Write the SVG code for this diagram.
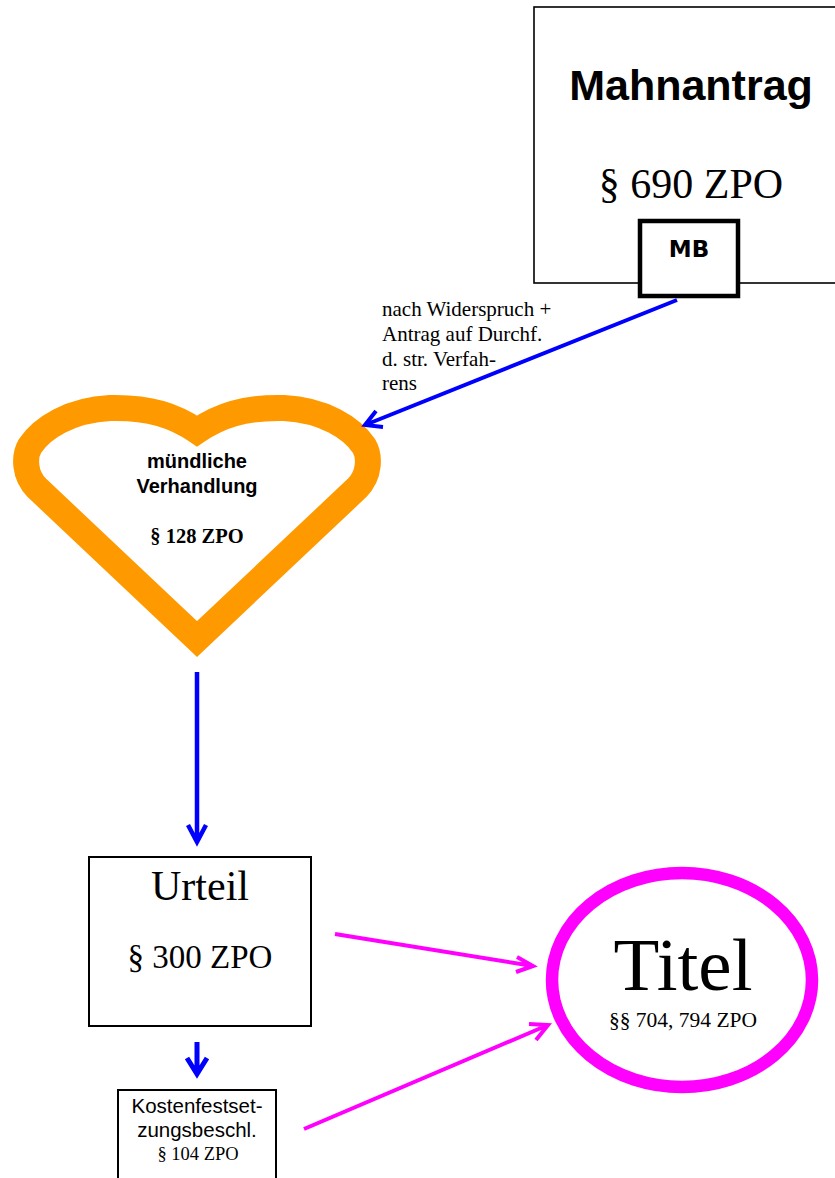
<svg xmlns="http://www.w3.org/2000/svg" width="835" height="1178" viewBox="0 0 835 1178">
<style>
.box{fill:#fff;stroke:#000}
.sans{font-family:"Liberation Sans",Arial,sans-serif}
.serif{font-family:"Liberation Serif","Times New Roman",serif}
.c{text-anchor:middle}
.blue{fill:none;stroke:#0000FF;stroke-linecap:butt}
.mag{fill:none;stroke:#FF00FF}
</style>
<rect width="835" height="1178" fill="#fff"/>
<g id="mahnantrag">
<rect class="box" x="534" y="7" width="320" height="276" stroke-width="1.6"/>
<text class="sans c" x="691" y="100" font-size="43" font-weight="bold">Mahnantrag</text>
<text class="serif c" x="691" y="198" font-size="42">§ 690 ZPO</text>
</g>
<g id="mb">
<rect class="box" x="640" y="221" width="98" height="75" stroke-width="4.5" fill="none"/>
<text class="c" x="689" y="257" font-size="23" font-weight="bold" font-family="'DejaVu Sans',Verdana,sans-serif">MB</text>
</g>
<g id="verhandlung">
<path d="M197,639 L37,488 C24,475 24,456 30,446 C42,428 70,410 110,408 C150,407 175,416 197,431 C219,416 244,407 284,408 C324,410 352,428 364,446 C370,456 370,475 357,488 Z" fill="#fff" stroke="#FF9900" stroke-width="26" stroke-linejoin="miter" stroke-miterlimit="10"/>
<text class="sans c" x="197" y="468" font-size="20" font-weight="bold">mündliche</text>
<text class="sans c" x="197" y="493" font-size="20" font-weight="bold">Verhandlung</text>
<text class="serif c" x="197" y="543" font-size="20.5" font-weight="bold">§ 128 ZPO</text>
</g>
<g id="urteil">
<rect class="box" x="89" y="857" width="222" height="169" stroke-width="2"/>
<text class="serif c" x="200" y="900" font-size="42">Urteil</text>
<text class="serif c" x="200" y="968" font-size="33">§ 300 ZPO</text>
</g>
<g id="kosten">
<rect class="box" x="118" y="1090" width="158" height="100" stroke-width="2"/>
<text class="sans c" x="197" y="1113" font-size="20.5">Kostenfestset-</text>
<text class="sans c" x="197" y="1137" font-size="20.5">zungsbeschl.</text>
<text class="serif c" x="198" y="1160" font-size="18.5">§ 104 ZPO</text>
</g>
<g id="titel">
<ellipse cx="682" cy="980" rx="130" ry="107" fill="#fff" stroke="#FF00FF" stroke-width="12.5"/>
<text class="serif c" x="683" y="990" font-size="75">Titel</text>
<text class="serif c" x="683" y="1027" font-size="21.5">§§ 704, 794 ZPO</text>
</g>
<g id="label">
<text class="serif" font-size="21" x="382" y="316">nach Widerspruch +</text>
<text class="serif" font-size="21" x="382" y="341">Antrag auf Durchf.</text>
<text class="serif" font-size="21" x="382" y="366">d. str. Verfah-</text>
<text class="serif" font-size="21" x="382" y="390">rens</text>
</g>
<g id="connectors">
<path class="blue" stroke-width="4" d="M677,300 L365,425 M383,427 L365,425 L376,411"/>
<path class="blue" stroke-width="4.5" d="M197,672 L197,842 M188,825 L197,842 L206,825"/>
<path class="blue" stroke-width="5" d="M197,1042 L197,1074 M187,1058 L197,1074 L207,1058"/>
<path class="mag" stroke-width="4" d="M335,934 L533,966 M517,957 L533,966 L516,972"/>
<path class="mag" stroke-width="4" d="M304,1129 L548,1025 M529,1024 L548,1025 L536,1040"/>
</g>
</svg>
